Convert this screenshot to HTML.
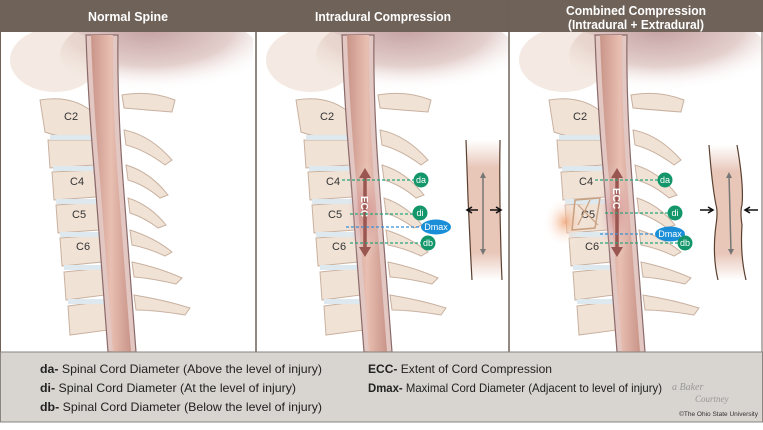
<!DOCTYPE html>
<html><head><meta charset="utf-8"><style>
body{margin:0;width:763px;height:425px;overflow:hidden;background:#fff;font-family:"Liberation Sans",sans-serif}
</style></head><body>
<svg width="763" height="425" viewBox="0 0 763 425" xmlns="http://www.w3.org/2000/svg" font-family="Liberation Sans, sans-serif">
<defs>
<linearGradient id="cord" x1="0" x2="1"><stop offset="0" stop-color="#c99488"/><stop offset=".5" stop-color="#e8bfb2"/><stop offset="1" stop-color="#c99488"/></linearGradient>
<radialGradient id="skull" cx=".45" cy=".2" r=".7"><stop offset="0" stop-color="#c4a0a2"/><stop offset=".6" stop-color="#e3cfcc"/><stop offset="1" stop-color="#fff" stop-opacity="0"/></radialGradient>
<radialGradient id="glow" cx=".5" cy=".5" r=".5"><stop offset="0" stop-color="#b8505a" stop-opacity=".45"/><stop offset="1" stop-color="#fff" stop-opacity="0"/></radialGradient>
<radialGradient id="orange" cx=".5" cy=".5" r=".5"><stop offset="0" stop-color="#f0a070" stop-opacity=".8"/><stop offset="1" stop-color="#fff" stop-opacity="0"/></radialGradient>
<linearGradient id="ins" x1="0" y1="0" x2="0" y2="1"><stop offset="0" stop-color="#fff"/><stop offset=".2" stop-color="#e8c6b8"/><stop offset=".8" stop-color="#e8c6b8"/><stop offset="1" stop-color="#fff"/></linearGradient>
<clipPath id="pc"><rect x="0" y="32" width="253" height="320"/></clipPath>
<g id="spine" clip-path="url(#pc)">
<ellipse cx="160" cy="55" rx="100" ry="45" fill="url(#skull)"/>
<ellipse cx="55" cy="60" rx="45" ry="32" fill="#ecdcd0" opacity=".6"/>
<path d="M40 100 Q70 95 90 110 L92 135 Q65 140 45 132 Z" fill="#f0e2d5" stroke="#c9b1a0"/>
<path d="M48 140 L92 140 L94 165 L50 168 Z" fill="#f0e2d5" stroke="#c9b1a0"/>
<path d="M52 172 L94 170 L96 197 L54 200 Z" fill="#f0e2d5" stroke="#c9b1a0"/>
<path d="M56 205 L97 202 L99 230 L58 233 Z" fill="#f0e2d5" stroke="#c9b1a0"/>
<path d="M60 238 L100 235 L102 262 L62 266 Z" fill="#f0e2d5" stroke="#c9b1a0"/>
<path d="M64 272 L103 268 L105 295 L66 300 Z" fill="#f0e2d5" stroke="#c9b1a0"/>
<path d="M68 306 L106 301 L108 330 L70 335 Z" fill="#f0e2d5" stroke="#c9b1a0"/>
<g fill="#dde9ee"><rect x="50" y="135" width="44" height="5"/><rect x="53" y="166" width="42" height="5"/><rect x="56" y="199" width="42" height="5"/><rect x="60" y="232" width="41" height="5"/><rect x="64" y="265" width="40" height="5"/><rect x="68" y="299" width="39" height="5"/></g>
<g fill="#f0e2d5" stroke="#c9b1a0">
<path d="M122 95 Q150 90 175 100 L172 112 Q145 110 124 108Z"/>
<path d="M124 130 Q150 135 172 160 L165 165 Q145 150 126 145Z"/>
<path d="M126 165 Q150 172 168 195 L160 198 Q145 185 128 180Z"/>
<path d="M128 198 Q150 205 166 225 L158 228 Q145 218 130 213Z"/>
<path d="M130 230 Q155 238 172 252 L165 256 Q148 248 132 245Z"/>
<path d="M132 262 Q160 268 182 278 L176 284 Q150 278 134 277Z"/>
<path d="M134 295 Q165 300 190 308 L185 315 Q155 310 136 310Z"/>
</g>
<path d="M86 35 Q88 100 95 180 Q101 260 108 352 L136 352 Q129 260 123 180 Q117 100 118 35 Z" fill="#e2c7c2" stroke="#8a6a6a" stroke-width="1.2"/>
<path d="M91 35 Q93 100 100 180 Q106 260 113 352 L131 352 Q124 260 118 180 Q112 100 113 35 Z" fill="url(#cord)"/>
<g font-size="11" fill="#333"><text x="64" y="120">C2</text><text x="70" y="185">C4</text><text x="72" y="218">C5</text><text x="76" y="250">C6</text></g>
</g>
</defs>
<use href="#spine" x="0" y="0"/>
<use href="#spine" x="256" y="0"/>
<use href="#spine" x="509" y="0"/>
<rect x="0" y="0" width="763" height="32" fill="#6f6259"/>
<g fill="#fff" font-weight="bold" font-size="13" text-anchor="middle">
<text x="128" y="21" textLength="80" lengthAdjust="spacingAndGlyphs">Normal Spine</text>
<text x="383" y="21" textLength="136" lengthAdjust="spacingAndGlyphs">Intradural Compression</text>
<text x="636" y="15" textLength="140" lengthAdjust="spacingAndGlyphs">Combined Compression</text>
<text x="636" y="29" textLength="136" lengthAdjust="spacingAndGlyphs">(Intradural + Extradural)</text>
</g>
<line x1="256" y1="0" x2="256" y2="352" stroke="#6f6259" stroke-width="1.5"/>
<line x1="509" y1="0" x2="509" y2="352" stroke="#6f6259" stroke-width="1.5"/>
<line x1="762" y1="32" x2="762" y2="352" stroke="#6f6259"/>
<line x1="0.5" y1="32" x2="0.5" y2="352" stroke="#6f6259"/>
<!-- panel 2 markings -->
<ellipse cx="365" cy="212" rx="22" ry="50" fill="url(#glow)"/>
<line x1="365" y1="175" x2="365" y2="250" stroke="#9a5650" stroke-width="3.5"/>
<path d="M359 178 L365 168 L371 178Z M359 247 L365 257 L371 247Z" fill="#9a5650"/>
<text transform="translate(361,196) rotate(90)" fill="#fff" font-size="10" font-weight="bold">ECC</text>
<g stroke-dasharray="3,2" stroke-width="1.2">
<line x1="342" y1="180" x2="415" y2="180" stroke="#2aa57a"/>
<line x1="350" y1="214" x2="414" y2="214" stroke="#2aa57a"/>
<line x1="346" y1="227" x2="425" y2="227" stroke="#3a8ed0"/>
<line x1="350" y1="243" x2="423" y2="243" stroke="#2aa57a"/>
</g>
<g fill="#13966a"><circle cx="421" cy="180" r="7.5"/><circle cx="420" cy="213" r="7.5"/><circle cx="428" cy="243" r="7.5"/></g>
<ellipse cx="436" cy="227" rx="15" ry="7.5" fill="#1a8fd8"/>
<g fill="#fff" font-size="9" text-anchor="middle"><text x="421" y="183">da</text><text x="420" y="216">di</text><text x="436" y="230">Dmax</text><text x="428" y="246">db</text></g>
<path d="M466 140 Q468 210 472 280 L502 280 Q499 210 500 140Z" fill="url(#ins)"/>
<path d="M466 140 Q468 210 472 280 M500 140 Q499 210 502 280" fill="none" stroke="#5a4030" stroke-width="1.2"/>
<line x1="483" y1="175" x2="483" y2="252" stroke="#777" stroke-width="1.5"/>
<path d="M480 178 L483 172 L486 178Z M480 249 L483 255 L486 249Z" fill="#777"/>
<path d="M468 210 H478 M472 207 L467 210 L472 213 M490 210 H500 M496 207 L501 210 L496 213" stroke="#111" stroke-width="1.6" fill="none"/>
<!-- panel 3 markings -->
<ellipse cx="565" cy="222" rx="22" ry="25" fill="url(#orange)"/>
<path d="M575 200 L600 198 L595 228 L572 230Z" fill="none" stroke="#c9a080" stroke-width="1.5"/>
<path d="M578 205 L598 225 M590 200 L578 225" stroke="#c9a080" stroke-width="1.2"/>
<ellipse cx="615" cy="212" rx="22" ry="50" fill="url(#glow)"/>
<line x1="617" y1="175" x2="617" y2="250" stroke="#9a5650" stroke-width="3.5"/>
<path d="M611 178 L617 168 L623 178Z M611 247 L617 257 L623 247Z" fill="#9a5650"/>
<text transform="translate(613,188) rotate(90)" fill="#fff" font-size="10" font-weight="bold">ECC</text>
<g stroke-dasharray="3,2" stroke-width="1.2">
<line x1="595" y1="180" x2="660" y2="180" stroke="#2aa57a"/>
<line x1="605" y1="213" x2="670" y2="213" stroke="#2aa57a"/>
<line x1="600" y1="234" x2="655" y2="234" stroke="#3a8ed0"/>
<line x1="600" y1="243" x2="680" y2="243" stroke="#2aa57a"/>
</g>
<ellipse cx="670" cy="234" rx="15" ry="7.5" fill="#1a8fd8"/>
<g fill="#13966a"><circle cx="665" cy="180" r="7.5"/><circle cx="675" cy="213" r="7.5"/><circle cx="685" cy="243" r="7.5"/></g>
<g fill="#fff" font-size="9" text-anchor="middle"><text x="665" y="183">da</text><text x="675" y="216">di</text><text x="670" y="237">Dmax</text><text x="685" y="246">db</text></g>
<path d="M709 145 Q712 185 716 205 Q718 212 716 225 Q712 255 718 280 L746 280 Q740 255 742 225 Q740 212 742 205 Q744 185 737 145Z" fill="url(#ins)"/>
<path d="M709 145 Q712 185 716 205 Q718 212 716 225 Q712 255 718 280 M737 145 Q744 185 742 205 Q740 212 742 225 Q740 255 746 280" fill="none" stroke="#5a4030" stroke-width="1.2"/>
<line x1="729" y1="175" x2="731" y2="252" stroke="#777" stroke-width="1.5"/>
<path d="M726 178 L729 172 L732 178Z M728 249 L731 255 L734 249Z" fill="#777"/>
<path d="M700 210 H712 M708 207 L713 210 L708 213 M758 210 H746 M750 207 L745 210 L750 213" stroke="#111" stroke-width="1.6" fill="none"/>
<!-- legend -->
<rect x="0.5" y="352" width="762" height="70" fill="#d8d4cf" stroke="#8a8580"/>
<g font-size="12" fill="#222">
<text x="40" y="373" textLength="282" lengthAdjust="spacingAndGlyphs"><tspan font-weight="bold">da-</tspan> Spinal Cord Diameter (Above the level of injury)</text>
<text x="40" y="392" textLength="256" lengthAdjust="spacingAndGlyphs"><tspan font-weight="bold">di-</tspan> Spinal Cord Diameter (At the level of injury)</text>
<text x="40" y="411" textLength="282" lengthAdjust="spacingAndGlyphs"><tspan font-weight="bold">db-</tspan> Spinal Cord Diameter (Below the level of injury)</text>
<text x="368" y="373" textLength="184" lengthAdjust="spacingAndGlyphs"><tspan font-weight="bold">ECC-</tspan> Extent of Cord Compression</text>
<text x="368" y="392" textLength="294" lengthAdjust="spacingAndGlyphs"><tspan font-weight="bold">Dmax-</tspan> Maximal Cord Diameter (Adjacent to level of injury)</text>
</g>
<text x="672" y="390" font-size="10" fill="#999" font-style="italic" font-family="Liberation Serif, serif">a Baker</text>
<text x="695" y="402" font-size="9" fill="#999" font-style="italic" font-family="Liberation Serif, serif">Courtney</text>
<text x="758" y="416" font-size="6.5" fill="#333" text-anchor="end">©The Ohio State University</text>
</svg>
</body></html>
